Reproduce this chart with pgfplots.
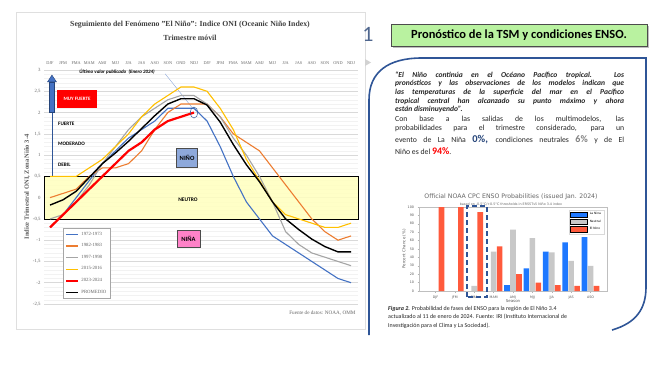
\documentclass[border=0pt]{standalone}
\usepackage{pgfplots}
\pgfplotsset{compat=1.18}
\usepackage{fontspec}
\setmainfont{Liberation Serif}
\newfontfamily\calib{Carlito}
\newfontfamily\dvs{DejaVu Sans}
\definecolor{c72}{RGB}{68,114,196}
\definecolor{c82}{RGB}{237,125,49}
\definecolor{c97}{RGB}{165,165,165}
\definecolor{c15}{RGB}{255,192,0}
\definecolor{c23}{RGB}{255,0,0}
\definecolor{ninob}{RGB}{142,169,219}
\definecolor{ninap}{RGB}{255,130,200}
\definecolor{neut}{RGB}{255,255,190}
\definecolor{frameblue}{RGB}{47,85,151}
\definecolor{laninab}{RGB}{30,120,255}
\definecolor{neutg}{RGB}{200,200,200}
\definecolor{elninor}{RGB}{255,90,60}
\definecolor{titleg}{RGB}{64,64,64}
\definecolor{boxgreen}{RGB}{185,242,160}
\begin{document}
\begin{tikzpicture}[x=1bp,y=1bp]
\useasboundingbox (0,0) rectangle (670,367);
\fill[white] (0,0) rectangle (670,367);
% ---------------- left panel ----------------
\draw[gray!25, line width=0.6bp] (16,38) rectangle (365,355);
\node[font=\bfseries\fontsize{7.8}{9}\selectfont, text=titleg] at (190,342) {Seguimiento del Fenómeno "El Niño": Indice ONI (Oceanic Niño Index)};
\node[font=\bfseries\fontsize{7.8}{9}\selectfont, text=titleg] at (190,329) {Trimestre móvil};
\node[rotate=90, font=\bfseries\fontsize{6.5}{7}\selectfont, text=gray!70!black] at (27,180) {Indice Trimestral ONI, Zona Niño 3-4};
\node[anchor=east, font=\fontsize{5.2}{6}\selectfont, text=gray!80!black] at (359,54) {Fuente de datos: NOAA, OMM};
\begin{axis}[
  at={(44bp,63bp)}, anchor=south west, scale only axis, width=314bp, height=234bp,
  xmin=-0.46, xmax=23.53, ymin=-2.5, ymax=3,
  axis line style={draw=none}, tick style={draw=none},
  xtick={0,...,23},
  xticklabels={DJF,JFM,FMA,MAM,AMJ,MJJ,JJA,JAS,ASO,SON,OND,NDJ,DJF,JFM,FMA,MAM,AMJ,MJJ,JJA,JAS,ASO,SON,OND,NDJ},
  xticklabel pos=upper,
  x tick label style={font=\fontsize{4.3}{5}\selectfont, text=gray!80!black, yshift=2bp},
  ytick={-2.5,-2,-1.5,-1,-0.5,0,0.5,1,1.5,2,2.5,3},
  y tick label style={font=\fontsize{4.8}{5}\selectfont, text=gray!80!black},
  /pgf/number format/assume math mode=true, /pgf/number format/use comma,
  ymajorgrids, minor y tick num=4, yminorgrids,
  major grid style={gray!30, line width=0.5bp},
  minor grid style={gray!10, line width=0.4bp},
  extra y ticks={1,1.5,2}, extra y tick labels={},
  extra y tick style={grid style={ninob!90!black, line width=0.6bp}},
  clip=false,
  legend image code/.code={\draw[#1] (0bp,0bp)--(12bp,0bp);},
  legend style={at={(0.0605,0.325)}, anchor=north west, font=\fontsize{4.8}{5}\selectfont, text=gray!80!black,
    draw=gray!70, fill=white, row sep=2.9bp, inner sep=2bp, inner xsep=2bp},
  legend cell align=left,
]
\draw[black, line width=0.8bp, fill=neut, fill opacity=0.85] (axis cs:-0.46,-0.5) rectangle (axis cs:23.53,0.5);
\node[font=\calib\bfseries\fontsize{5.5}{6}\selectfont] at (axis cs:10.54,-0.06) {NEUTRO};
\node[fill=ninob, draw=gray!60!black, line width=0.5bp, minimum width=21bp, minimum height=19bp, inner sep=0pt, font=\calib\bfseries\fontsize{6.5}{7}\selectfont] at (axis cs:10.47,0.94) {NIÑO};
\node[fill=ninap, draw=gray!60!black, line width=0.5bp, minimum width=23bp, minimum height=17bp, inner sep=0pt, font=\calib\bfseries\fontsize{6.5}{7}\selectfont] at (axis cs:10.58,-0.97) {NIÑA};
\node[fill=red, minimum width=40bp, minimum height=18bp, inner sep=0pt, text=white, font=\calib\bfseries\fontsize{5}{6}\selectfont] at (axis cs:2.06,2.32) {MUY FUERTE};
\node[anchor=west, inner sep=0pt, font=\calib\bfseries\fontsize{5.2}{6}\selectfont] at (axis cs:0.61,1.73) {FUERTE};
\node[anchor=west, inner sep=0pt, font=\calib\bfseries\fontsize{5.2}{6}\selectfont] at (axis cs:0.61,1.26) {MODERADO};
\node[anchor=west, inner sep=0pt, font=\calib\bfseries\fontsize{5.2}{6}\selectfont] at (axis cs:0.61,0.77) {DEBIL};
% arrow
\draw[frameblue, line width=0.9bp] (axis cs:0.15,0.5) -- (axis cs:0.15,2.0);
\draw[frameblue!80!black, fill=c72, line width=0.4bp] ([xshift=-2.5bp]axis cs:0.15,2.0) rectangle ([xshift=2.5bp]axis cs:0.15,2.72);
\fill[c72, draw=frameblue!80!black, line width=0.4bp] ([xshift=-4.5bp]axis cs:0.15,2.72) -- ([xshift=4.5bp]axis cs:0.15,2.72) -- (axis cs:0.15,2.88) -- cycle;
\node[anchor=west, inner sep=0pt, font=\calib\bfseries\itshape\fontsize{5}{6}\selectfont] at (axis cs:2.22,2.95) {Último valor publicado \ (Enero 2024)};
\draw[ninob, line width=0.4bp] (axis cs:8.8,2.91) -- (axis cs:10.95,2.08);
\addplot[c72, line width=1.1bp] coordinates {(0,-0.7)(1,-0.4)(2,0.0)(3,0.4)(4,0.8)(5,1.1)(6,1.4)(7,1.6)(8,1.8)(9,2.1)(10,2.1)(11,2.1)(12,1.8)(13,1.2)(14,0.5)(15,-0.1)(16,-0.5)(17,-0.9)(18,-1.1)(19,-1.3)(20,-1.5)(21,-1.7)(22,-1.9)(23,-2.0)};
\addlegendentry{1972-1973}
\addplot[c82, line width=1.1bp] coordinates {(0,0.0)(1,0.1)(2,0.2)(3,0.5)(4,0.7)(5,0.7)(6,0.8)(7,1.1)(8,1.6)(9,2.0)(10,2.2)(11,2.2)(12,2.2)(13,1.9)(14,1.5)(15,1.3)(16,1.1)(17,0.7)(18,0.3)(19,-0.1)(20,-0.5)(21,-0.8)(22,-1.0)(23,-0.9)};
\addlegendentry{1982-1983}
\addplot[c97, line width=1.1bp] coordinates {(0,-0.5)(1,-0.4)(2,-0.1)(3,0.3)(4,0.8)(5,1.2)(6,1.6)(7,1.9)(8,2.1)(9,2.3)(10,2.4)(11,2.4)(12,2.2)(13,1.9)(14,1.4)(15,1.0)(16,0.5)(17,-0.1)(18,-0.8)(19,-1.1)(20,-1.3)(21,-1.4)(22,-1.5)(23,-1.6)};
\addlegendentry{1997-1998}
\addplot[c15, line width=1.1bp] coordinates {(0,0.5)(1,0.5)(2,0.5)(3,0.7)(4,0.9)(5,1.2)(6,1.5)(7,1.9)(8,2.2)(9,2.4)(10,2.6)(11,2.6)(12,2.5)(13,2.1)(14,1.6)(15,0.9)(16,0.4)(17,-0.1)(18,-0.4)(19,-0.5)(20,-0.6)(21,-0.7)(22,-0.7)(23,-0.6)};
\addlegendentry{2015-2016}
\addplot[black, line width=1.4bp, forget plot] coordinates {(0,-0.175)(1,-0.05)(2,0.15)(3,0.475)(4,0.8)(5,1.05)(6,1.325)(7,1.625)(8,1.925)(9,2.2)(10,2.325)(11,2.325)(12,2.175)(13,1.775)(14,1.25)(15,0.775)(16,0.375)(17,-0.1)(18,-0.5)(19,-0.75)(20,-0.975)(21,-1.15)(22,-1.275)(23,-1.275)};
\addplot[c23, line width=2.2bp] coordinates {(0,-0.7)(1,-0.4)(2,-0.1)(3,0.2)(4,0.5)(5,0.8)(6,1.1)(7,1.3)(8,1.6)(9,1.8)(10,1.9)(11,2.0)};
\addlegendentry{2023-2024}
\addlegendimage{black, line width=1.4bp}
\addlegendentry{PROMEDIO}
\draw[frameblue, line width=0.5bp] (axis cs:11,2.0) ellipse [x radius=3.8bp, y radius=5.5bp];
\end{axis}
% ---------------- separators ----------------
\draw[frameblue, line width=1.6bp] (369,32) -- (369,267) .. controls (369,295) and (388,309) .. (422,309) -- (646,309) -- (646,80) .. controls (646,58) and (636,44) .. (612,37);
\node[font=\calib\fontsize{22}{22}\selectfont, text=frameblue!60!gray] at (368,333) {1};
\fill[gray!35] (365,301) -- (371,304.5) -- (365,308) -- cycle;
% ---------------- right panel title ----------------
\fill[gray!50] (393,319) rectangle (649,341);
\node[draw=gray!60!black, line width=0.8bp, fill=boxgreen, minimum width=256bp, minimum height=22bp, inner sep=0pt, font=\calib\bfseries\fontsize{12.5}{14}\selectfont] at (519,332) {Pronóstico de la TSM y condiciones ENSO.};
% quote
\begin{scope}[every node/.style={anchor=base west, inner sep=0pt, text=black!85}]
\node[font=\calib\bfseries\itshape\fontsize{7.6}{8}\selectfont] at (395,289.5) {\makebox[229bp][s]{“El Niño continúa en el Océano Pacífico tropical. Los}};
\node[font=\calib\bfseries\itshape\fontsize{7.6}{8}\selectfont] at (395,281.5) {\makebox[229bp][s]{pronósticos y las observaciones de los modelos indican que}};
\node[font=\calib\bfseries\itshape\fontsize{7.6}{8}\selectfont] at (395,272.5) {\makebox[229bp][s]{las temperaturas de la superficie del mar en el Pacífico}};
\node[font=\calib\bfseries\itshape\fontsize{7.6}{8}\selectfont] at (395,263.5) {\makebox[229bp][s]{tropical central han alcanzado su punto máximo y ahora}};
\node[font=\calib\bfseries\itshape\fontsize{7.6}{8}\selectfont] at (395,255.5) {están disminuyendo”.};
\node[font=\calib\fontsize{7.8}{8}\selectfont] at (395,245.5) {\makebox[229bp][s]{Con base a las salidas de los multimodelos, las}};
\node[font=\calib\fontsize{7.8}{8}\selectfont] at (395,236.5) {\makebox[229bp][s]{probabilidades para el trimestre considerado, para un}};
\node[font=\calib\fontsize{7.8}{8}\selectfont] at (395,225) {\makebox[229bp][s]{evento de La Niña {\bfseries\fontsize{10.5}{11}\selectfont\color{frameblue!80!black}0\%,} condiciones neutrales {\bfseries\fontsize{10}{11}\selectfont\color{gray}6\%} y de El}};
\node[font=\calib\fontsize{7.8}{8}\selectfont] at (395,213) {Niño es del {\bfseries\fontsize{10}{11}\selectfont\color{red}94\%}.};
% caption
\node[font=\calib\fontsize{6}{7}\selectfont] at (388,57) {{\bfseries\itshape Figura 2.} Probabilidad de fases del ENSO para la región de El Niño 3.4};
\node[font=\calib\fontsize{6}{7}\selectfont] at (388,48.5) {actualizado al 11 de enero de 2024. Fuente: IRI (Instituto Internacional de};
\node[font=\calib\fontsize{6}{7}\selectfont] at (388,40) {Investigación para el Clima y La Sociedad).};
\end{scope}
% ---------------- bar chart ----------------
\node[font=\dvs\fontsize{6.2}{7}\selectfont, text=gray!80!black] at (511,170) {Official NOAA CPC ENSO Probabilities (issued Jan. 2024)};
\node[font=\dvs\fontsize{3.3}{4}\selectfont, text=gray!80!black] at (511,163) {based on -0.5°C/+0.5°C thresholds in ERSSTv5 Niño 3.4 index};
\begin{axis}[
  at={(419bp,76bp)}, anchor=south west, scale only axis, width=188bp, height=84bp,
  xmin=-0.85, xmax=8.85, ymin=0, ymax=100,
  ybar=0.4bp, bar width=5.6bp,
  xtick={0,...,8}, xticklabels={DJF,JFM,FMA,MAM,AMJ,MJJ,JJA,JAS,ASO},
  ytick={0,10,20,30,40,50,60,70,80,90,100},
  tick label style={font=\dvs\fontsize{3.3}{4}\selectfont, text=gray!70!black},
  /pgf/number format/assume math mode=true,
  axis line style={gray!50, line width=0.4bp},
  tick style={gray!60, line width=0.3bp}, major tick length=1.5bp,
  tick align=outside, xtick pos=bottom, ytick pos=left,
  xlabel={Season}, ylabel={Percent Chance (\%)},
  label style={font=\dvs\fontsize{4}{4.5}\selectfont, text=gray!70!black},
  xlabel style={yshift=6bp}, ylabel style={yshift=-5bp},
  legend style={at={(0.985,0.97)}, anchor=north east, font=\dvs\fontsize{3}{3.5}\selectfont, draw=gray!30, row sep=-0.5bp, inner sep=1bp},
  legend cell align=left, area legend,
  clip=false,
]
\addplot[fill=laninab, draw=none] coordinates {(4,7)(5,27)(6,47)(7,58)(8,64)};
\addlegendentry{La Nina}
\addplot[fill=neutg, draw=none] coordinates {(2,6)(3,47)(4,73)(5,63)(6,46)(7,36)(8,30)};
\addlegendentry{Neutral}
\addplot[fill=elninor, draw=none] coordinates {(0,100)(1,100)(2,94)(3,53)(4,20)(5,10)(6,7)(7,6)(8,6)};
\addlegendentry{El Nino}
\end{axis}
\draw[frameblue, line width=1.4bp, dash pattern=on 5bp off 3bp] (467,70) rectangle (487,161);
\end{tikzpicture}
\end{document}
